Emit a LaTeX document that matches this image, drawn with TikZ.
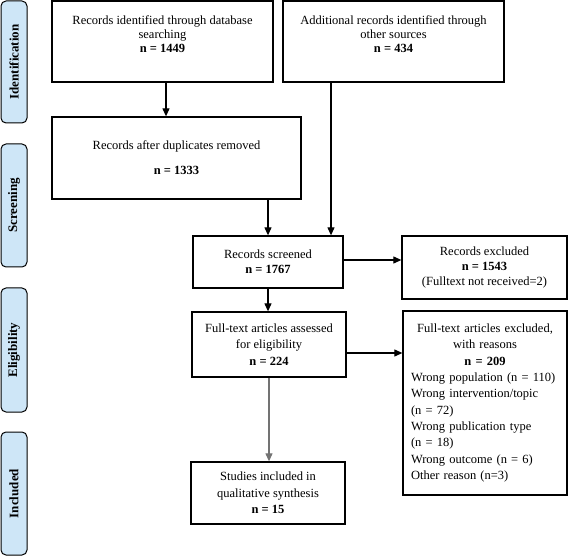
\documentclass[tikz,border=0pt]{standalone}
\usepackage{fontspec}
\setmainfont{Liberation Serif}
\usetikzlibrary{arrows.meta}
\definecolor{phaseblue}{RGB}{206,230,247}
\newcommand{\fsz}{\fontsize{12.5}{15}\selectfont}
\newcommand{\fszb}{\fontsize{12.5}{14}\selectfont}
\newcommand{\fszl}{\fontsize{12.5}{16.3}\selectfont}
\tikzset{
  box/.style={draw, line width=1.3pt, align=center, font=\fsz, inner sep=2pt},
  phase/.style={draw, rounded corners=5pt, fill=phaseblue, line width=1pt, font=\fontsize{13}{15}\selectfont\bfseries, rotate=90, minimum height=26pt, inner sep=0pt},
  arr/.style={-{Triangle[length=8pt,width=7pt]}, line width=1.1pt},
}
\begin{document}
\begin{tikzpicture}[x=1pt,y=-1pt]
\useasboundingbox (0,0) rectangle (568,556);
% phase labels
\node[phase, minimum width=122pt] (p1) at (14,62) {Identification};
\node[phase, minimum width=123pt] (p2) at (14,205.5) {Screening};
\node[phase, minimum width=124pt] (p3) at (14,350) {Eligibility};
\node[phase, minimum width=123pt] (p4) at (14,493.5) {Included};
% boxes
\node[box, font=\fszb, minimum width=221pt, minimum height=81pt] (b1) at (162.5,41.5)
  {Records identified through database\\ searching\\ \textbf{n = 1449}\\[-4pt] \strut};
\node[box, font=\fszb, minimum width=221pt, minimum height=81pt] (b2) at (393.5,41.5)
  {Additional records identified through\\ other sources\\ \textbf{n = 434}\\[-4pt] \strut};
\node[box, minimum width=249pt, minimum height=82pt] (b3) at (176.5,158)
  {Records after duplicates removed\\[10pt] \textbf{n = 1333}};
\node[box, minimum width=150pt, minimum height=52pt] (scr) at (268,262)
  {Records screened\\ \textbf{n = 1767}};
\node[box, minimum width=165pt, minimum height=63pt] (exc) at (484.5,267.5)
  {Records excluded\\ \textbf{n = 1543}\\ (Fulltext not received=2)};
\node[box, font=\fszl, minimum width=154pt, minimum height=65pt] (full) at (269,344.5)
  {Full-text articles assessed\\ for eligibility\\ \textbf{n = 224}};
\node[box, font=\fszl, minimum width=164pt, minimum height=184pt, text width=148pt, align=left, inner xsep=8pt] (fexc) at (485,403)
  {\centering Full-text articles excluded,\\ with reasons\\ \textbf{n = 209}\par
   \raggedright Wrong population (n = 110)\\ Wrong intervention/topic\\ (n = 72)\\ Wrong publication type\\ (n = 18)\\ Wrong outcome (n = 6)\\ Other reason (n=3)\par};
\node[box, font=\fszl, minimum width=154pt, minimum height=62pt] (stu) at (268,493)
  {Studies included in\\ qualitative synthesis\\ \textbf{n = 15}};
% connectors
\draw[arr] ([xshift=3.5pt]b1.south) -- ([xshift=3.5pt]b1.south |- b3.north);
\draw[arr] ([xshift=-62.5pt]b2.south) -- ([xshift=-62.5pt]b2.south |- scr.north);
\draw[arr] (scr.north |- b3.south) -- (scr.north);
\draw[arr] (scr.south) -- (scr.south |- full.north);
\draw[arr] ([yshift=2pt]scr.east) -- ([yshift=2pt]scr.east -| exc.west);
\draw[arr] ([yshift=-8.5pt]full.east) -- ([yshift=-8.5pt]full.east -| fexc.west);
\draw[arr, draw=black!55] (full.south) -- (full.south |- stu.north);
\end{tikzpicture}
\end{document}
